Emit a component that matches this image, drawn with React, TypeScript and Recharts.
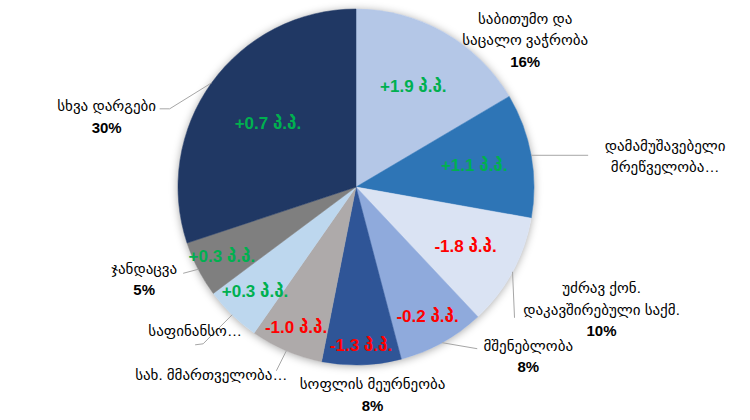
import React from 'react'
import { PieChart, Pie, Cell } from 'recharts'

// Sector shares of the economy (%), clockwise from 12 o'clock
const sectorNames = [
  'საბითუმო და საცალო ვაჭრობა',
  'დამამუშავებელი მრეწველობა',
  'უძრავ ქონ. დაკავშირებული საქმ.',
  'მშენებლობა',
  'სოფლის მეურნეობა',
  'სახ. მმართველობა',
  'საფინანსო',
  'ჯანდაცვა',
  'სხვა დარგები'
]
const shares = [16.5, 11.3, 10.2, 7.9, 7.2, 6.6, 5.1, 5.1, 30.1]
const changes = [1.9, 1.1, -1.8, -0.2, -1.3, -1.0, 0.3, 0.3, 0.7]
const nameLines = [
  ['საბითუმო და', 'საცალო ვაჭრობა'],
  ['დამამუშავებელი', 'მრეწველობა…'],
  ['უძრავ ქონ.', 'დაკავშირებული საქმ.'],
  ['მშენებლობა'],
  ['სოფლის მეურნეობა'],
  ['სახ. მმართველობა…'],
  ['საფინანსო…'],
  ['ჯანდაცვა'],
  ['სხვა დარგები']
]
const percentLabels = ['16%', '', '10%', '8%', '8%', '', '', '5%', '30%']

const colors = [
  '#B4C7E7', '#2E75B6', '#DAE3F3', '#8FAADC', '#2F5597',
  '#AEAAAA', '#BDD7EE', '#7F7F7F', '#203864'
]

// label placement (offsets from the slice's outer edge at mid angle)
const innerFrac = [0.65, 0.675, 0.7, 0.83, 0.89, 0.86, 0.815, 0.85, 0.61]
const outerLayout = [
  { dx: 81, dy: 7, line: [] as number[][] },
  { dx: 134, dy: 0, line: [[57, 0]] },
  { dx: 89, dy: 37, line: [[2, 46]] },
  { dx: 86, dy: 13, line: [[35, 6]] },
  { dx: 11, dy: 29, line: [] },
  { dx: -75, dy: 23, line: [[-10, 20]] },
  { dx: -37, dy: 15, line: [[-29, 29], [-37, 30]] },
  { dx: -54, dy: 9, line: [[-15, 4]] },
  { dx: -105, dy: 33, line: [[-42, 26], [-52, 26]] }
]

const RADIAN = Math.PI / 180
const FONT = '"Liberation Sans", "DejaVu Sans", Arial, sans-serif'

const data = sectorNames.map((name, i) => ({ name, value: shares[i] }))
const total = [{ name: 'total', value: shares.reduce((a, b) => a + b, 0) }]

const renderLabel = (props: any) => {
  const { cx, cy, midAngle, outerRadius, index } = props
  const cos = Math.cos(-midAngle * RADIAN)
  const sin = Math.sin(-midAngle * RADIAN)
  const ex = cx + outerRadius * cos
  const ey = cy + outerRadius * sin
  const ir = outerRadius * innerFrac[index]
  const ix = cx + ir * cos
  const iy = cy + ir * sin
  const ch = changes[index]
  const chText = `${ch > 0 ? '+' : ''}${ch.toFixed(1)} პ.პ.`

  const layout = outerLayout[index]
  const lines = [...nameLines[index]]
  if (percentLabels[index]) lines.push(percentLabels[index])
  const lh = 21.5
  const tx = ex + layout.dx
  const ty = ey + layout.dy - ((lines.length - 1) * lh) / 2
  const pts = [[ex, ey], ...layout.line.map(([dx, dy]) => [ex + dx, ey + dy])]

  return (
    <g key={`lbl-${index}`}>
      <text
        x={ix}
        y={iy}
        textAnchor="middle"
        dominantBaseline="central"
        fill={ch > 0 ? '#00B050' : '#FF0000'}
        fontSize={17}
        fontWeight="bold"
        fontFamily={FONT}
      >
        {chText}
      </text>
      {pts.length > 1 && (
        <polyline
          points={pts.map(p => p.join(',')).join(' ')}
          fill="none"
          stroke="#A6A6A6"
          strokeWidth={1}
        />
      )}
      <text
        x={tx}
        y={ty}
        textAnchor="middle"
        dominantBaseline="central"
        fill="#000"
        fontSize={15}
        fontFamily={FONT}
      >
        {lines.map((l, i) => (
          <tspan
            key={i}
            x={tx}
            y={ty + i * lh}
            fontWeight={l.endsWith('%') ? 'bold' : 'normal'}
          >
            {l}
          </tspan>
        ))}
      </text>
    </g>
  )
}

export default function App() {
  return (
    <div style={{ position: 'absolute', left: 0, top: 0, width: 750, height: 420, background: '#fff' }}>
      <style>{`.pie-shadow path { filter: drop-shadow(0px 1px 4px rgba(0,0,0,0.35)); }`}</style>
      <PieChart width={750} height={420} margin={{ top: 0, right: 0, bottom: 0, left: 0 }}>
        {/* soft outer shadow behind the pie */}
        <Pie
          data={total}
          dataKey="value"
          cx={356}
          cy={187}
          outerRadius={178}
          startAngle={90}
          endAngle={-270}
          stroke="none"
          fill="#ffffff"
          className="pie-shadow"
          isAnimationActive={false}
        />
        <Pie
          data={data}
          dataKey="value"
          nameKey="name"
          cx={356}
          cy={187}
          outerRadius={178}
          startAngle={90}
          endAngle={-270}
          label={renderLabel}
          labelLine={false}
          isAnimationActive={false}
        >
          {data.map((d, i) => (
            <Cell key={d.name} fill={colors[i]} stroke={colors[i]} strokeWidth={0.5} />
          ))}
        </Pie>
      </PieChart>
    </div>
  )
}
